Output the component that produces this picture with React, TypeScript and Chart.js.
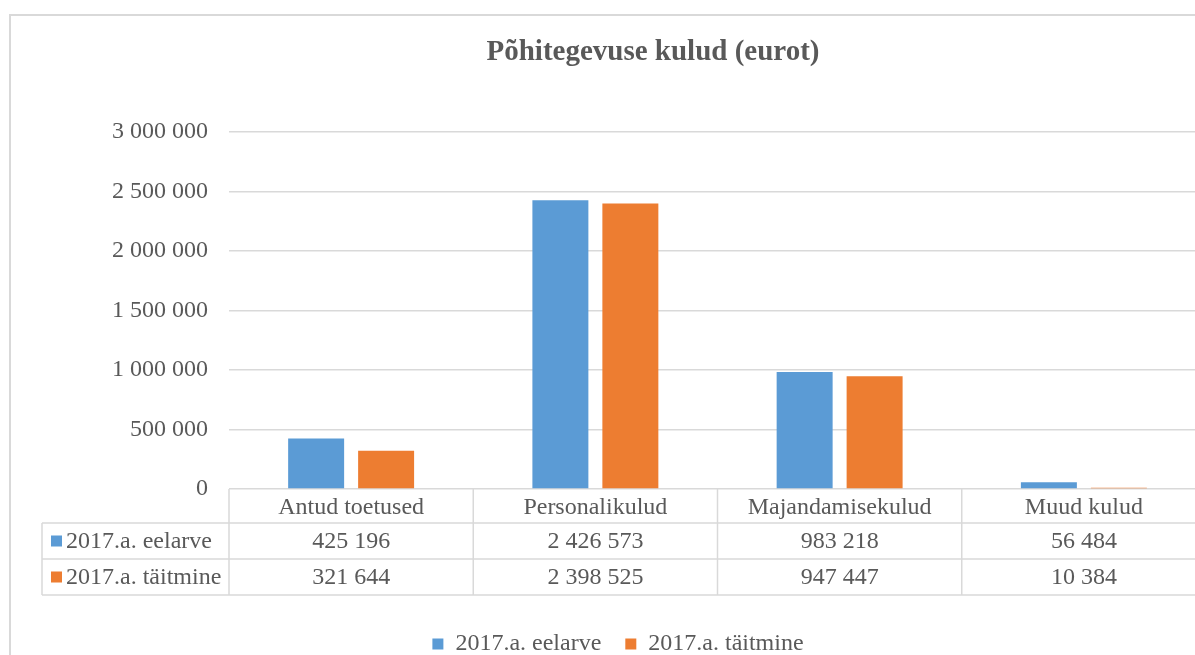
import React, { useEffect, useRef } from 'react';
import { Chart, registerables } from 'chart.js';

Chart.register(...registerables);

const categories = ['Antud toetused', 'Personalikulud', 'Majandamisekulud', 'Muud kulud'];
const seriesNames = ['2017.a. eelarve', '2017.a. täitmine'];
const budget = [425196, 2426573, 983218, 56484];
const actual = [321644, 2398525, 947447, 10384];
const yMin = 0;
const yMax = 3000000;
const yStep = 500000;
const colors = ['#5B9BD5', '#ED7D31'];

const FONT = "'Liberation Serif', 'Times New Roman', serif";
const TEXT = '#595959';
const LINE = '#d9d9d9';
const CANVAS_W = 1215;
const CANVAS_H = 680;

const fmt = (v: number) => String(Math.round(v)).replace(/\B(?=(\d{3})+(?!\d))/g, ' ');

const framePlugin = {
  id: 'frame',
  beforeDraw(chart: any) {
    const ctx = chart.ctx;
    ctx.save();
    ctx.fillStyle = '#ffffff';
    ctx.fillRect(0, 0, chart.width, chart.height);
    ctx.strokeStyle = LINE;
    ctx.lineWidth = 2;
    ctx.beginPath();
    ctx.moveTo(10, chart.height);
    ctx.lineTo(10, 15);
    ctx.lineTo(chart.width, 15);
    ctx.stroke();
    ctx.restore();
  },
};

const legendShift = {
  id: 'legendShift',
  afterLayout(chart: any) {
    if (chart.legend) {
      chart.legend.left -= 70;
    }
  },
};

const tablePlugin = {
  id: 'dataTable',
  afterDraw(chart: any) {
    const { ctx, chartArea } = chart;
    const xs = chart.scales.x;
    const n = categories.length;
    const step = xs.getPixelForValue(1) - xs.getPixelForValue(0);
    const bounds: number[] = [];
    for (let i = 0; i <= n; i++) bounds.push(xs.getPixelForValue(0) - step / 2 + i * step);
    const r0 = chartArea.bottom;
    const r1 = r0 + 34;
    const r2 = r1 + 36;
    const r3 = r2 + 36;
    const left = 42;
    const right = chart.width;
    ctx.save();
    ctx.strokeStyle = LINE;
    ctx.lineWidth = 1.5;
    ctx.beginPath();
    [r1, r2, r3].forEach((y) => {
      ctx.moveTo(left, y);
      ctx.lineTo(right, y);
    });
    ctx.moveTo(left, r1);
    ctx.lineTo(left, r3);
    bounds.forEach((x) => {
      ctx.moveTo(x, r0);
      ctx.lineTo(x, r3);
    });
    ctx.stroke();

    ctx.font = `24px ${FONT}`;
    ctx.fillStyle = TEXT;
    ctx.textBaseline = 'middle';
    const rows = [budget, actual];
    const rowMid = [(r1 + r2) / 2, (r2 + r3) / 2];
    rows.forEach((vals, ri) => {
      const ym = rowMid[ri];
      ctx.fillStyle = colors[ri];
      ctx.fillRect(51, ym - 5.5, 11, 11);
      ctx.fillStyle = TEXT;
      ctx.textAlign = 'left';
      ctx.fillText(seriesNames[ri], 66, ym + 1);
      ctx.textAlign = 'center';
      vals.forEach((v, i) => {
        ctx.fillText(fmt(v), xs.getPixelForValue(i), ym + 1);
      });
    });
    ctx.restore();
  },
};

export default function App() {
  const ref = useRef<HTMLCanvasElement>(null);
  useEffect(() => {
    const canvas = ref.current;
    if (!canvas) return;
    const font = { family: FONT, size: 24 };
    const chart = new Chart(canvas, {
      type: 'bar',
      data: {
        labels: categories,
        datasets: [
          { label: seriesNames[0], data: budget, backgroundColor: colors[0], categoryPercentage: 0.573, barPercentage: 0.8 },
          { label: seriesNames[1], data: actual, backgroundColor: colors[1], categoryPercentage: 0.573, barPercentage: 0.8 },
        ],
      },
      options: {
        responsive: false,
        animation: false,
        devicePixelRatio: 1,
        layout: { padding: { left: 100, right: 9, top: 0, bottom: 14 } },
        plugins: {
          title: {
            display: true,
            text: 'Põhitegevuse kulud (eurot)',
            color: TEXT,
            font: { family: FONT, size: 29, weight: 'bold' },
            padding: { top: 35, bottom: 62.2 },
          },
          legend: {
            position: 'bottom',
            labels: {
              boxWidth: 11,
              boxHeight: 11,
              padding: 24,
              color: TEXT,
              font,
            },
          },
          tooltip: { enabled: false },
        },
        scales: {
          x: {
            grid: { display: false },
            border: { display: false },
            ticks: { font, color: TEXT, padding: -4, maxRotation: 0, autoSkip: false },
            afterFit: (s: any) => {
              s.height = 119;
            },
          },
          y: {
            min: yMin,
            max: yMax,
            ticks: {
              stepSize: yStep,
              font,
              color: TEXT,
              padding: 21,
              callback: (v: any) => fmt(Number(v)),
            },
            grid: { color: LINE, lineWidth: 1.5, drawTicks: false },
            border: { display: false },
            afterFit: (s: any) => {
              s.width = 129;
            },
          },
        },
      },
      plugins: [framePlugin, legendShift, tablePlugin],
    } as any);
    return () => chart.destroy();
  }, []);

  return (
    <div
      style={{
        position: 'fixed',
        left: 0,
        top: 0,
        width: 1195,
        height: 655,
        overflow: 'hidden',
        background: '#ffffff',
      }}
    >
      <canvas
        ref={ref}
        width={CANVAS_W}
        height={CANVAS_H}
        style={{ width: CANVAS_W, height: CANVAS_H, display: 'block' }}
      />
    </div>
  );
}
